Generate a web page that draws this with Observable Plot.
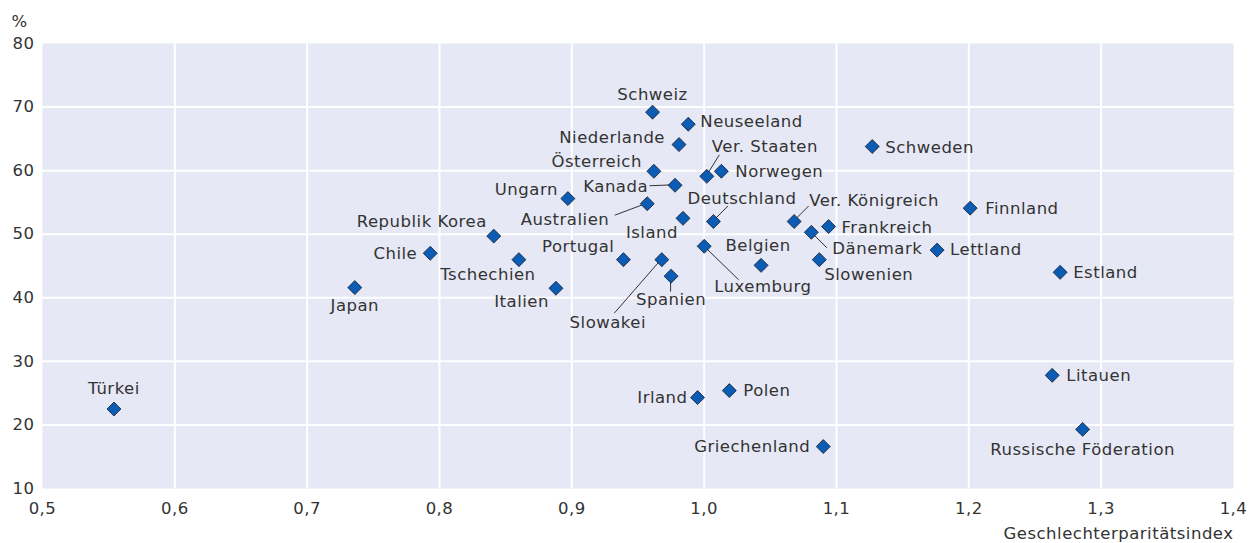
<!DOCTYPE html>
<html>
<head>
<meta charset="utf-8">
<script src="https://cdn.jsdelivr.net/npm/d3@7"></script>
<script src="https://cdn.jsdelivr.net/npm/@observablehq/plot@0.6"></script>
<style>
  html, body { margin: 0; padding: 0; background: #fff; }
  #chart svg { display: block; }
  #chart svg text { letter-spacing: 0.5px; }
</style>
</head>
<body>
<div id="chart"></div>
<script>
// ---- Data ----
const countries = ["Türkei","Japan","Chile","Republik Korea","Tschechien","Italien","Ungarn","Portugal","Australien","Schweiz","Österreich","Slowakei","Spanien","Kanada","Niederlande","Island","Neuseeland","Luxemburg","Ver. Staaten","Deutschland","Norwegen","Irland","Polen","Belgien","Ver. Königreich","Dänemark","Slowenien","Griechenland","Frankreich","Schweden","Lettland","Finnland","Litauen","Estland","Russische Föderation"];
const parityIndex = [0.554,0.736,0.793,0.841,0.860,0.888,0.897,0.939,0.957,0.961,0.962,0.968,0.975,0.978,0.981,0.984,0.988,1.000,1.002,1.007,1.013,0.995,1.019,1.043,1.068,1.081,1.087,1.090,1.094,1.127,1.176,1.201,1.263,1.269,1.286];
const percentValues = [22.5,41.6,47.0,49.7,46.0,41.5,55.6,46.0,54.8,69.2,59.9,46.0,43.4,57.7,64.1,52.5,67.3,48.1,59.1,52.0,59.9,24.3,25.4,45.1,52.0,50.3,46.0,16.6,51.2,63.8,47.5,54.1,27.8,44.0,19.3];
const xTicks = [0.5,0.6,0.7,0.8,0.9,1.0,1.1,1.2,1.3,1.4];
const yTicks = [10,20,30,40,50,60,70,80];
const xTitle = "Geschlechterparitätsindex";
const yTitle = "%";

// ---- Label placement (styling: pixel offsets, anchors, leader ends) ----
const labelPlacement = {
  "Türkei": {dx: 0, dy: -20, a: "middle"},
  "Japan": {dx: 0, dy: 18, a: "middle"},
  "Chile": {dx: -13, dy: 0, a: "end"},
  "Republik Korea": {dx: -7, dy: -14, a: "end"},
  "Tschechien": {dx: -31, dy: 15, a: "middle"},
  "Italien": {dx: -7, dy: 13, a: "end"},
  "Ungarn": {dx: -10, dy: -9, a: "end"},
  "Portugal": {dx: -9, dy: -13, a: "end"},
  "Australien": {dx: -38, dy: 16, a: "end", lx: -32, ly: 12},
  "Schweiz": {dx: 0, dy: -17, a: "middle"},
  "Österreich": {dx: -12, dy: -10, a: "end"},
  "Slowakei": {dx: -54, dy: 63, a: "middle", lx: -47, ly: 54},
  "Spanien": {dx: 0, dy: 24, a: "middle", lx: 0, ly: 16},
  "Kanada": {dx: -27, dy: 1, a: "end", lx: -25, ly: 1},
  "Niederlande": {dx: -14, dy: -7, a: "end"},
  "Island": {dx: -5, dy: 14, a: "end"},
  "Neuseeland": {dx: 12, dy: -3, a: "start"},
  "Luxemburg": {dx: 10, dy: 40, a: "start", lx: 35, ly: 34},
  "Ver. Staaten": {dx: 5, dy: -30, a: "start", lx: 13, ly: -21},
  "Deutschland": {dx: -26, dy: -23, a: "start", lx: 15, ly: -15},
  "Norwegen": {dx: 14, dy: 0, a: "start"},
  "Irland": {dx: -10, dy: 0, a: "end"},
  "Polen": {dx: 14, dy: 0, a: "start"},
  "Belgien": {dx: -3, dy: -20, a: "middle"},
  "Ver. Königreich": {dx: 15, dy: -21, a: "start", lx: 15, ly: -15},
  "Dänemark": {dx: 21, dy: 16, a: "start", lx: 16, ly: 16},
  "Slowenien": {dx: 5, dy: 15, a: "start"},
  "Griechenland": {dx: -13, dy: 0, a: "end"},
  "Frankreich": {dx: 13, dy: 1, a: "start"},
  "Schweden": {dx: 13, dy: 1, a: "start"},
  "Lettland": {dx: 13, dy: 0, a: "start"},
  "Finnland": {dx: 15, dy: 1, a: "start"},
  "Litauen": {dx: 14, dy: 0, a: "start"},
  "Estland": {dx: 13, dy: 0, a: "start"},
  "Russische Föderation": {dx: 0, dy: 20, a: "middle"}
};

const rows = countries.map((c, i) => ({country: c, x: parityIndex[i], y: percentValues[i]}));
const fmt = d => d.toFixed(1).replace(".", ",");
const FONT = "DejaVu Sans, sans-serif";
const TEXT = "#333333";
const FS = 16.5;

const labelMarks = rows.map(r => {
  const p = labelPlacement[r.country];
  return Plot.text([r], {x: "x", y: "y", text: "country", dx: p.dx, dy: p.dy, textAnchor: p.a, fill: TEXT, fontSize: FS});
});

const plot = Plot.plot({
  width: 1250,
  height: 543,
  marginLeft: 42,
  marginRight: 17,
  marginTop: 43,
  marginBottom: 55,
  style: {fontFamily: FONT, fontSize: FS + "px", color: TEXT, background: "#fff"},
  x: {domain: [0.5, 1.4], ticks: xTicks, tickFormat: fmt, tickSize: 0, tickPadding: 14, label: null},
  y: {domain: [10, 80], ticks: yTicks, tickSize: 0, tickPadding: 8, label: null},
  marks: [
    Plot.frame({fill: "#E6E8F5", stroke: null}),
    Plot.ruleX(xTicks.slice(1, -1), {stroke: "#ffffff", strokeWidth: 2}),
    Plot.ruleY(yTicks.slice(1, -1), {stroke: "#ffffff", strokeWidth: 2}),
    Plot.dot(rows, {x: "x", y: "y", symbol: "diamond2", r: 6.3, fill: "#0A5CB5", stroke: "#1a1a2a", strokeWidth: 0.8}),
    ...labelMarks,
    Plot.text([xTitle], {frameAnchor: "bottom-right", text: d => d, dy: 50, textAnchor: "end", fill: TEXT, fontSize: FS}),
    Plot.text([yTitle], {frameAnchor: "top-left", text: d => d, dx: -23, dy: -28, textAnchor: "middle", fill: TEXT, fontSize: FS})
  ]
});

// Leader lines, positioned through the plot's own scales
const sx = plot.scale("x"), sy = plot.scale("y");
const svg = d3.select(plot);
const leaders = rows.filter(r => labelPlacement[r.country].lx !== undefined);
svg.append("g")
  .attr("stroke", "#333")
  .attr("stroke-width", 1)
  .selectAll("line")
  .data(leaders)
  .join("line")
  .attr("x1", r => sx.apply(r.x))
  .attr("y1", r => sy.apply(r.y))
  .attr("x2", r => sx.apply(r.x) + labelPlacement[r.country].lx)
  .attr("y2", r => sy.apply(r.y) + labelPlacement[r.country].ly);
// keep dots and labels above leaders
svg.selectAll("g[aria-label='dot']").raise();
svg.selectAll("g[aria-label='text']").raise();

document.getElementById("chart").appendChild(plot);
</script>
</body>
</html>
